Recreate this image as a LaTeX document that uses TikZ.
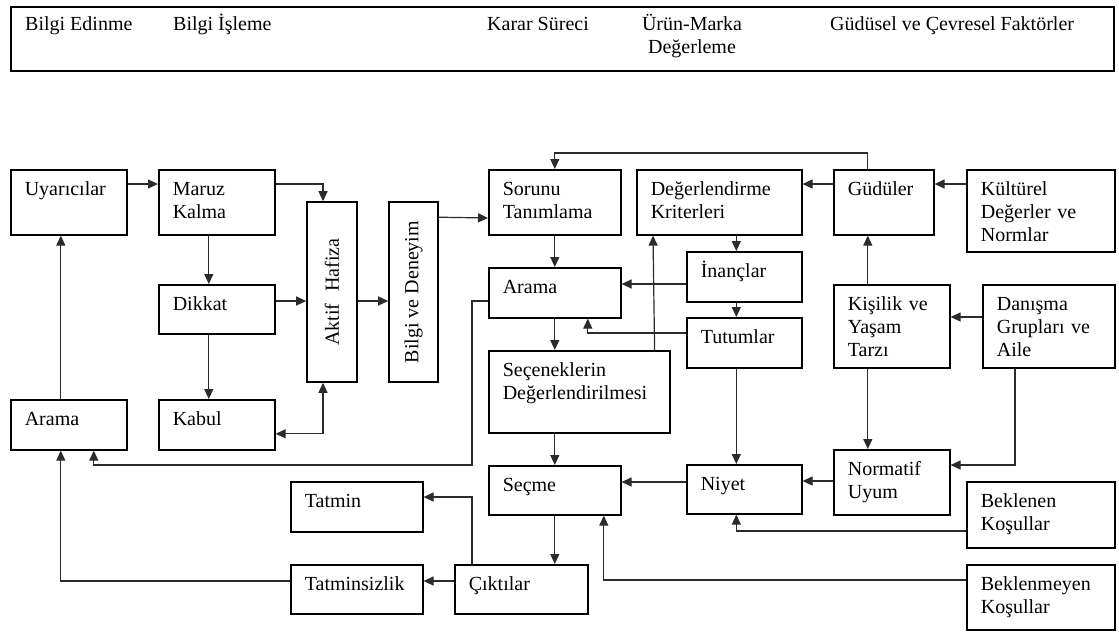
\documentclass[tikz,border=0pt]{standalone}
\usepackage{fontspec}
\setmainfont{Liberation Serif}
\usepackage{graphicx}
\usepackage{tikz}
\usetikzlibrary{arrows.meta}
\definecolor{LinkGray}{HTML}{2B2B2B}

\begin{document}
\begin{tikzpicture}[
  x=1pt, y=-1pt,
  >={Triangle[length=10pt,width=9pt]},
  every node/.style={font=\fontsize{20}{23}\selectfont},
  box/.style={draw, line width=1.6pt, anchor=north west, inner xsep=14pt,
    inner ysep=0pt, align=left, text height=26pt},
  wh/.style 2 args={/utils/exec={\pgfmathsetlengthmacro\boxw{#1pt-28pt}%
    \pgfmathsetlengthmacro\boxd{#2pt-26pt}}, text width=\boxw, text depth=\boxd},
  tallbox/.style={draw, line width=1.6pt, minimum width=50pt,
    minimum height=180pt, inner sep=0pt},
  hdr/.style={anchor=base west, inner sep=0pt},
  arr/.style={->, LinkGray, line width=1.2pt}
]
\useasboundingbox (0,0) rectangle (1119,633);
% header band
\node[draw, line width=1.6pt, anchor=north west, minimum width=1103pt,
  minimum height=64pt, inner sep=0pt] (band) at (10,6) {};
\node[hdr] (hEdin) at (25,30) {Bilgi Edinme};
\node[hdr] (hIsle) at (173,30) {Bilgi İşleme};
\node[hdr] (hKarar) at (487,30) {Karar Süreci};
\node[anchor=base, align=center, text width=130pt, inner sep=0pt] (hUrun)
  at (692,30) {Ürün-Marka\\Değerleme};
\node[hdr] (hGudu) at (830,30) {Güdüsel ve Çevresel Faktörler};

% information side
\node[box, wh={116}{65}] (uyar) at (10,169) {Uyarıcılar};
\node[box, wh={116}{65}] (maruz) at (158,169) {Maruz\\Kalma};
\node[box, wh={116}{49}] (dikkat) at (158,284) {Dikkat};
\node[box, wh={116}{50}] (kabul) at (158,399) {Kabul};
\node[box, wh={116}{50}] (arama1) at (10,399) {Arama};
\node[tallbox] (aktif) at (332,292) {\rotatebox{90}{Aktif\hspace{12pt}Hafiza}};
\node[tallbox, minimum width=49pt] (bilgi) at (413.5,292) {\rotatebox{90}{Bilgi ve Deneyim}};

% decision side
\node[box, wh={132}{65}] (sorunu) at (488,169) {Sorunu\\Tanımlama};
\node[box, wh={132}{50}] (arama2) at (488,267) {Arama};
\node[box, wh={181}{82}] (secenek) at (488,350) {Seçeneklerin\\Değerlendirilmesi};
\node[box, wh={132}{49}] (secme) at (488,465) {Seçme};
\node[box, wh={133}{49}] (cikti) at (454,564) {Çıktılar};
\node[box, wh={132}{50}] (tatmin) at (290,481) {Tatmin};
\node[box, wh={132}{49}] (tatminsiz) at (290,564) {Tatminsizlik};

% evaluation and factors
\node[box, wh={165}{65}] (kriter) at (636,169) {Değerlendirme\\Kriterleri};
\node[box, wh={115}{50}] (inanc) at (686,251) {İnançlar};
\node[box, wh={115}{50}] (tutum) at (686,317) {Tutumlar};
\node[box, wh={115}{49}] (niyet) at (686,464) {Niyet};
\node[box, wh={100}{65}] (gudu) at (833,169) {Güdüler};
\node[box, wh={148}{82}] (kultur) at (966,169) {Kültürel\\Değerler ve\\Normlar};
\node[box, wh={116}{83}] (kisilik) at (833,284) {Kişilik ve\\Yaşam\\Tarzı};
\node[box, wh={132}{83}] (danisma) at (982,284) {Danışma\\Grupları ve\\Aile};
\node[box, wh={116}{65}] (normatif) at (833,449) {Normatif\\Uyum};
\node[box, wh={148}{66}] (beklenen) at (966,481) {Beklenen\\Koşullar};
\node[box, wh={148}{65}] (beklenmeyen) at (966,564) {Beklenmeyen\\Koşullar};

\coordinate (turn) at (472,465);

% connectors
\draw[arr] ([yshift=-15pt]uyar.north east) -- ([yshift=-15pt]maruz.north west);
\draw[arr] ([yshift=-15pt]maruz.north east) -| ([xshift=-9pt]aktif.north);
\draw[arr] ([xshift=-8pt]maruz.south) -- ([xshift=-8pt]dikkat.north);
\draw[arr] ([xshift=-8pt]dikkat.south) -- ([xshift=-8pt]kabul.north);
\draw[arr] ([yshift=-17pt]dikkat.north east) -- ([yshift=-9pt]aktif.west);
\draw[arr,<->] ([xshift=-9pt]aktif.south) |- ([yshift=-9pt]kabul.east);
\draw[arr] ([xshift=-8pt]arama1.north) -- ([xshift=-8pt]uyar.south);
\draw[arr] ([yshift=-9pt]aktif.east) -- ([yshift=-9pt]bilgi.west);
\draw[arr] ([yshift=-16pt]bilgi.north east) -- ([yshift=-49pt]sorunu.north west);
\draw[arr] (sorunu.south) -- (arama2.north);
\draw[arr] (arama2.south) -- (arama2.south |- secenek.north);
\draw[arr] (secme.north |- secenek.south) -- (secme.north);
\draw[arr] (secme.south) -- (secme.south |- cikti.north);
\draw[arr] ([xshift=18pt]cikti.north west) |- ([yshift=-16pt]tatmin.north east);
\draw[arr] ([yshift=-17pt]cikti.north west) -- ([yshift=-17pt]tatminsiz.north east);
\draw[arr] ([yshift=-17pt]tatminsiz.north west) -| ([xshift=-8pt]arama1.south);
\draw[arr] ([yshift=-34pt]arama2.north west) -| (turn) -| ([xshift=25pt]arama1.south);
\draw[arr] ([yshift=-18pt]niyet.north west) -- ([yshift=-17pt]secme.north east);
\draw[arr] ([yshift=-32pt]normatif.north west) -- ([yshift=-17pt]niyet.north east);
\draw[arr] ([yshift=-50pt]beklenen.north west) -| ([xshift=-8pt]niyet.south);
\draw[arr] ([yshift=-16pt]beklenmeyen.north west) -| ([xshift=49pt]secme.south);
\draw[arr] ([xshift=17pt]kriter.south) -- ([xshift=-8pt]inanc.north);
\draw[arr] ([xshift=-8pt]inanc.south) -- ([xshift=-8pt]tutum.north);
\draw[arr] ([xshift=-8pt]tutum.south) -- ([xshift=-8pt]niyet.north);
\draw[arr] ([yshift=-33pt]inanc.north west) -- ([yshift=-17pt]arama2.north east);
\draw[arr] ([yshift=-16pt]tutum.north west) -| ([xshift=33pt]arama2.south);
\draw[arr] ([xshift=-16pt]secenek.north east) -- ([xshift=17pt]kriter.south west);
\draw[arr] ([yshift=-15pt]gudu.north west) -- ([yshift=-15pt]kriter.north east);
\draw[arr] ([yshift=-15pt]kultur.north west) -- ([yshift=-15pt]gudu.north east);
\draw[arr] ([xshift=-16pt]gudu.north) -- ++(0,-16) -| (sorunu.north);
\draw[arr] ([xshift=-24pt]kisilik.north) -- ([xshift=-16pt]gudu.south);
\draw[arr] ([xshift=-24pt]kisilik.south) -- ([xshift=-24pt]normatif.north);
\draw[arr] ([yshift=-33pt]danisma.north west) -- ([yshift=-33pt]kisilik.north east);
\draw[arr] ([xshift=33pt]danisma.south west) |- ([yshift=-16pt]normatif.north east);
\end{tikzpicture}
\end{document}
